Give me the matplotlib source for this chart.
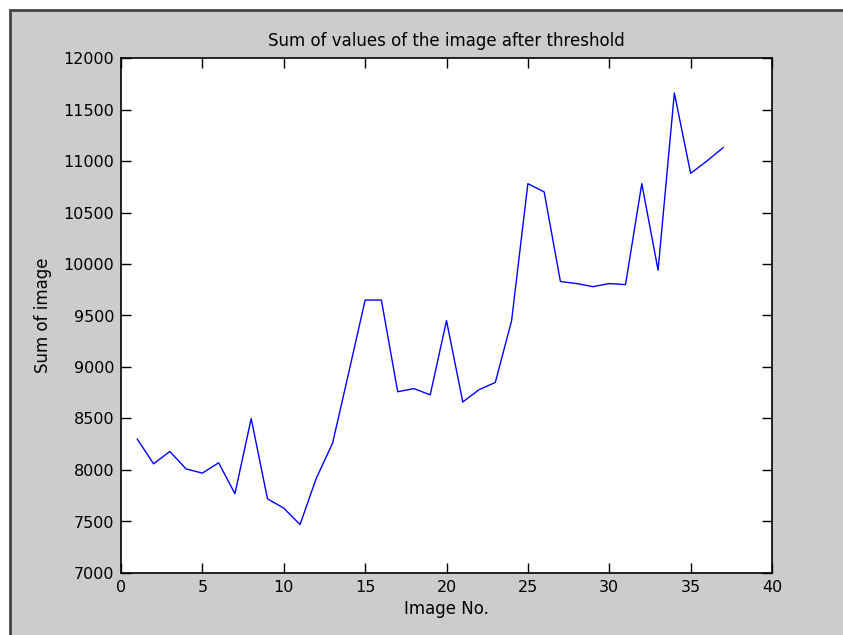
import matplotlib
matplotlib.use("Agg")
import matplotlib.pyplot as plt
from matplotlib.patches import Rectangle

image_no = list(range(1, 38))
sums = [8300, 8060, 8180, 8010, 7970, 8070, 7770, 8500, 7720, 7630,
        7470, 7920, 8260, 8950, 9650, 9650, 8760, 8790, 8730, 9450,
        8660, 8780, 8850, 9450, 10780, 10700, 9830, 9810, 9780, 9810,
        9800, 10780, 9940, 11660, 10880, 11000, 11130]
xticks = [0, 5, 10, 15, 20, 25, 30, 35, 40]
yticks = [7000, 7500, 8000, 8500, 9000, 9500, 10000, 10500, 11000, 11500, 12000]

W, H = 843, 635
fig = plt.figure(figsize=(W / 100, H / 100), dpi=100)
fig.patch.set_facecolor("white")
bg = Rectangle((10 / W, -0.1), 1.2, (H - 10) / H + 0.1,
               transform=fig.transFigure, facecolor="#cccccc",
               edgecolor="#444444", linewidth=2, zorder=-10)
fig.add_artist(bg)

fam = ["Liberation Sans Narrow", "DejaVu Sans"]
ax = fig.add_axes([121 / W, (H - 573) / H, 651 / W, 515 / H])
ax.set_zorder(5)
ax.set_facecolor("white")
ax.plot(image_no, sums, color="#0000ff", linewidth=1.0)
ax.set_xlim(0, 40)
ax.set_ylim(7000, 12000)
ax.set_xticks(xticks)
ax.set_yticks(yticks)
ax.tick_params(direction="in", length=7, width=1, top=True, right=True,
               labelsize=11.5, colors="black", pad=5)
for lab in ax.get_xticklabels() + ax.get_yticklabels():
    lab.set_family(fam)
for s in ax.spines.values():
    s.set_linewidth(1.2)
    s.set_color("black")
ax.set_title("Sum of values of the image after threshold", family=fam,
             fontsize=12, pad=9)
ax.set_xlabel("Image No.", family=fam, fontsize=12, labelpad=4)
ax.set_ylabel("Sum of image", family=fam, fontsize=12, labelpad=8)

fig.savefig("out.png", dpi=100, facecolor=fig.get_facecolor())
